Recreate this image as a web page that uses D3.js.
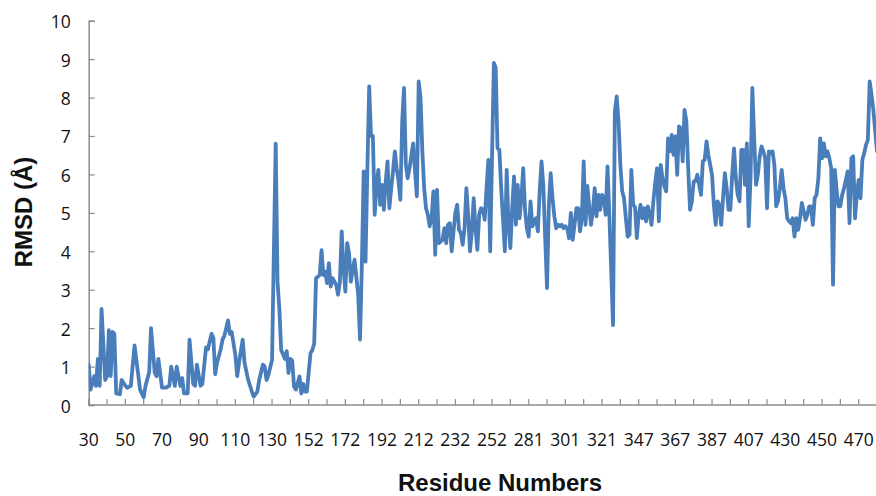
<!DOCTYPE html>
<html><head><meta charset="utf-8">
<script src="https://cdn.jsdelivr.net/npm/d3@7"></script>
<style>body{margin:0;background:#fff}svg{display:block}</style>
</head><body>
<svg id="chart" width="876" height="496"></svg>
<script>
// X category labels (one label every 20 residue categories)
const tickLabels = ["30","50","70","90","110","130","152","172","192","212","232","252","281","301","321","347","367","387","407","430","450","470"];
const labelStep = 20;
const tickStep = 10;
const categoryCount = 431;
const yTicks = [0,1,2,3,4,5,6,7,8,9,10];
const xTitle = "Residue Numbers";
const yTitle = "RMSD (Å)";

// RMSD per residue category (null = not read; the line connects across it)
const rmsd = [
1.05,0.4,null,0.75,0.5,1.2,0.5,2.5,null,0.65,
0.75,1.95,0.75,1.9,1.85,0.3,null,0.28,0.65,null,
0.5,0.45,null,0.5,null,1.55,null,0.8,0.4,null,
0.2,0.5,null,0.85,2.0,null,0.85,0.75,1.2,null,
0.45,null,0.45,null,0.5,1.0,null,0.5,1.0,null,
0.5,0.7,0.3,null,0.3,1.7,null,0.55,0.5,1.05,
null,0.5,0.55,null,1.5,1.45,null,1.85,1.75,0.8,
1.1,null,1.45,1.7,1.8,null,2.2,1.85,1.9,null,
1.3,0.75,1.1,null,1.7,1.1,null,0.65,null,0.35,
0.22,null,0.35,0.65,null,1.05,1.0,0.65,0.78,null,
1.17,null,6.8,3.2,2.5,1.43,null,1.2,1.4,0.83,
1.2,1.15,0.48,0.4,null,0.74,0.3,0.55,0.35,0.35,
null,1.35,1.43,1.6,3.3,null,3.38,4.03,3.38,3.47,
3.17,3.69,3.08,3.3,null,3.13,2.87,3.2,4.52,3.56,
2.95,4.21,3.95,3.21,3.52,3.78,null,2.87,1.7,3.65,
6.08,3.73,6.12,8.29,7.0,7.0,4.95,5.73,6.12,5.21,
5.73,5.08,5.82,6.34,5.12,5.64,6.08,6.6,6.16,5.82,
5.34,7.38,8.25,6.25,5.9,6.16,null,6.81,6.08,5.43,
8.42,7.99,6.6,5.64,5.12,4.95,4.65,4.82,5.56,3.91,
5.6,4.21,null,4.3,4.6,4.21,4.69,4.73,4.0,4.52,
5.0,5.21,4.56,4.47,4.17,4.6,5.64,4.95,4.0,4.52,
5.38,4.6,4.04,4.95,5.12,5.08,4.82,5.64,6.38,4.0,
6.42,8.9,8.77,6.68,6.64,5.64,null,4.0,6.12,4.69,
4.08,5.12,5.95,4.69,5.73,4.86,5.38,6.16,5.08,4.6,
4.38,5.3,4.65,4.78,4.86,4.52,5.56,6.34,5.69,4.34,
3.04,5.21,6.03,5.38,4.91,4.6,4.69,4.65,4.69,4.6,
4.65,4.6,4.34,5.0,4.3,4.69,5.12,5.12,4.52,4.86,
6.34,4.69,5.7,5.17,4.69,5.04,5.64,4.91,5.47,5.08,
5.47,5.38,4.95,6.21,4.95,null,2.08,7.64,8.03,7.38,
6.25,5.56,5.38,4.86,4.38,4.43,6.12,5.21,5.15,4.34,
4.95,5.21,4.86,5.12,4.78,5.17,4.95,4.69,5.3,5.77,
6.16,4.78,6.25,5.9,5.69,5.56,6.94,6.6,7.03,6.51,
6.99,5.99,7.25,7.2,6.34,7.68,7.38,6.16,5.08,5.3,
5.82,5.82,5.99,5.73,5.47,6.34,6.38,6.86,6.51,6.25,
5.99,5.21,4.69,5.3,5.21,4.69,5.38,6.03,5.64,5.08,
5.08,5.99,6.68,5.9,5.47,5.3,6.64,6.64,5.73,6.81,
4.65,5.9,8.25,6.94,5.73,5.99,6.47,6.73,6.6,6.42,
5.12,6.6,6.55,6.6,6.25,5.17,5.3,5.64,6.12,5.64,
5.38,4.86,4.78,4.73,4.86,4.38,4.86,4.56,4.86,5.26,
5.04,4.82,4.95,5.17,5.17,4.69,5.38,5.47,5.9,6.94,
6.42,6.81,6.47,6.6,6.42,6.16,3.13,6.12,5.56,5.17,
5.17,5.47,5.64,5.86,6.08,4.73,6.42,6.47,4.86,5.47,
5.86,5.38,6.38,6.55,6.77,6.9,8.42,8.08,7.68,7.12,
6.6
];

const W = 876, H = 496;
const svg = d3.select("#chart");
const axisColor = "#8c8c8c";
const lineColor = "#4a7ebb";

const x0 = 88.7, perCat = 1.8333;
const x = d3.scaleLinear().domain([0, categoryCount - 1]).range([x0, x0 + perCat * (categoryCount - 1)]);
const y = d3.scaleLinear().domain([0, 10]).range([405, 20.7]);

// Y axis
const yAxis = d3.axisLeft(y).tickValues(yTicks).tickSize(-6).tickPadding(0).tickFormat(d3.format("d"));
const gy = svg.append("g").attr("transform", `translate(${x0},0)`).call(yAxis);
gy.select(".domain").attr("stroke", axisColor).attr("stroke-width", 1.5);
gy.selectAll(".tick line").attr("stroke", axisColor).attr("stroke-width", 1.2);
gy.selectAll(".tick text").attr("x", -18).attr("dy", "0.4em")
  .attr("font-family", "'Open Sans', sans-serif").attr("font-size", 17.5).attr("fill", "#111");

// X axis: tick marks every tickStep categories, labels every labelStep categories
const tickCats = d3.range(0, categoryCount, tickStep);
const gx = svg.append("g").attr("transform", `translate(0,${y(0)})`);
gx.append("line").attr("x1", x0).attr("x2", W).attr("y1", 0).attr("y2", 0)
  .attr("stroke", axisColor).attr("stroke-width", 1.5);
gx.selectAll("line.tk").data(tickCats).join("line").attr("class", "tk")
  .attr("x1", d => x(d)).attr("x2", d => x(d)).attr("y1", 0).attr("y2", -6)
  .attr("stroke", axisColor).attr("stroke-width", 1.2);
gx.selectAll("text").data(tickLabels).join("text")
  .attr("x", (d, i) => x(i * labelStep)).attr("y", 41)
  .attr("text-anchor", "middle")
  .attr("font-family", "'Open Sans', sans-serif").attr("font-size", 17.5).attr("fill", "#111")
  .text(d => d);

// Line
const pts = rmsd.map((v, i) => [i, v]).filter(d => d[1] != null);
svg.append("clipPath").attr("id", "clip").append("rect")
  .attr("x", x0).attr("y", 0).attr("width", W - x0).attr("height", H);
svg.append("path").datum(pts)
  .attr("clip-path", "url(#clip)")
  .attr("fill", "none").attr("stroke", lineColor).attr("stroke-width", 3.8)
  .attr("stroke-linejoin", "round").attr("stroke-linecap", "round")
  .attr("d", d3.line().x(d => x(d[0])).y(d => y(d[1])));

// Titles
svg.append("text").attr("x", 500).attr("y", 491).attr("text-anchor", "middle")
  .attr("font-family", "'Liberation Sans', Arial, sans-serif").attr("font-weight", "bold")
  .attr("font-size", 24).attr("fill", "#111").text(xTitle);
svg.append("text").attr("transform", "translate(32,212) rotate(-90)").attr("text-anchor", "middle")
  .attr("font-family", "'Liberation Sans', Arial, sans-serif").attr("font-weight", "bold")
  .attr("font-size", 24).attr("fill", "#111").text(yTitle);
</script>
</body></html>
